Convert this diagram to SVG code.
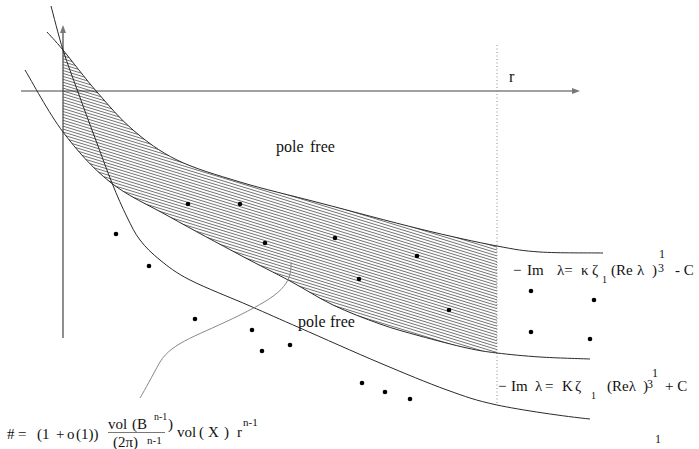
<svg xmlns="http://www.w3.org/2000/svg" width="699" height="449" viewBox="0 0 699 449">
<style>
.crv{fill:none;stroke:#2a2a2a;stroke-width:1}
.ax{fill:none;stroke:#444;stroke-width:1.2}
.t{font-family:"Liberation Serif","Times New Roman",serif;fill:#111}
.m{font-size:15px}
.s{font-size:10px}
.dot{fill:#000}
</style>
<defs>
<pattern id="hatch" patternUnits="userSpaceOnUse" width="20" height="2.8" patternTransform="rotate(17)">
<line x1="0" y1="1.4" x2="20" y2="1.4" stroke="#444" stroke-width="0.75"/>
</pattern>
</defs>
<rect width="699" height="449" fill="#fff"/>
<g id="region">
<path fill="url(#hatch)" stroke="none" d="M63,50 C71.3,60 85.3,78.7 97,92 C108.7,105.3 119.7,118.7 133,130 C146.3,141.3 159.2,151.3 177,160 C194.8,168.7 216.2,174.8 240,182 C263.8,189.2 290,195.2 320,203 C350,210.8 390.5,221.8 420,229 C449.5,236.2 477,242.2 497,246 L497,353 C484.8,351.5 479.8,350.8 467,348 C454.2,345.2 434.5,340 420,336 C405.5,332 394.5,329.2 380,324 C365.5,318.8 348,312.2 333,305 C318,297.8 305.5,289.3 290,281 C274.5,272.7 260,265.7 240,255 C220,244.3 191.7,229.2 170,217 C148.3,204.8 127.8,196.2 110,182 C92.2,167.8 77.2,150.7 63,132 Z"/>
</g>
<g id="axes">
<line class="ax" x1="21" y1="91" x2="576" y2="91"/>
<polygon points="572,88 580,91 572,94" fill="#777"/>
<line class="ax" x1="63" y1="338" x2="63" y2="29"/>
<polygon points="60,33 63,25 66,33" fill="#777"/>
<line x1="497" y1="45" x2="497" y2="405" stroke="#888" stroke-width="1" stroke-dasharray="1,2.5"/>
</g>
<g id="curves">
<path id="upper" class="crv" d="M47,32 C49.7,35 54.7,40 63,50 C71.3,60 85.3,78.7 97,92 C108.7,105.3 119.7,118.7 133,130 C146.3,141.3 159.2,151.3 177,160 C194.8,168.7 216.2,174.8 240,182 C263.8,189.2 290,195.2 320,203 C350,210.8 390.5,221.8 420,229 C449.5,236.2 477,242.2 497,246 C517,249.8 522.3,250.8 540,252 C557.7,253.2 592.5,252.8 603,253"/>
<path id="middle" class="crv" d="M25,70 C31.3,80.3 48.8,113.3 63,132 C77.2,150.7 92.2,167.8 110,182 C127.8,196.2 148.3,204.8 170,217 C191.7,229.2 220,244.3 240,255 C260,265.7 274.5,272.7 290,281 C305.5,289.3 318,297.8 333,305 C348,312.2 365.5,318.8 380,324 C394.5,329.2 405.5,332 420,336 C434.5,340 454.2,345.2 467,348 C479.8,350.8 484.8,351.5 497,353 C509.2,354.5 524.5,356 540,357 C555.5,358 581.7,358.7 590,359"/>
<path id="lower" class="crv" d="M51,6 C53,13.3 58.5,35.7 63,50 C67.5,64.3 72.7,77.3 78,92 C83.3,106.7 89.3,122.8 95,138 C100.7,153.2 106.7,169.8 112,183 C117.3,196.2 122.3,207.5 127,217 C131.7,226.5 134.5,232.8 140,240 C145.5,247.2 151.7,253.3 160,260 C168.3,266.7 175,272.3 190,280 C205,287.7 231.7,298 250,306 C268.3,314 278.3,318.5 300,328 C321.7,337.5 355.5,352.7 380,363 C404.5,373.3 427.5,383 447,390 C466.5,397 474.8,400.2 497,405 C519.2,409.8 566.2,416.7 590,419"/>
</g>
<g id="connectors">
<path d="M291,262 C292,285 280,295 240,315 C200,335 172,342 160,362 C151,378 146,388 140,398" fill="none" stroke="#888" stroke-width="1"/>
</g>
<g id="poles">
<circle class="dot" cx="188" cy="204" r="2.3"/>
<circle class="dot" cx="240" cy="204" r="2.3"/>
<circle class="dot" cx="116" cy="234" r="2.3"/>
<circle class="dot" cx="265" cy="243" r="2.3"/>
<circle class="dot" cx="335" cy="238" r="2.3"/>
<circle class="dot" cx="417" cy="256" r="2.3"/>
<circle class="dot" cx="149" cy="266" r="2.3"/>
<circle class="dot" cx="359" cy="279" r="2.3"/>
<circle class="dot" cx="449" cy="310" r="2.3"/>
<circle class="dot" cx="195" cy="319" r="2.3"/>
<circle class="dot" cx="252" cy="330" r="2.3"/>
<circle class="dot" cx="290" cy="345" r="2.3"/>
<circle class="dot" cx="262" cy="351" r="2.3"/>
<circle class="dot" cx="362" cy="383" r="2.3"/>
<circle class="dot" cx="385" cy="392" r="2.3"/>
<circle class="dot" cx="410" cy="399" r="2.3"/>
<circle class="dot" cx="531" cy="291" r="2.3"/>
<circle class="dot" cx="594" cy="300" r="2.3"/>
<circle class="dot" cx="531" cy="332" r="2.3"/>
<circle class="dot" cx="590" cy="339" r="2.3"/>
</g>
<g id="labels">
<text class="t" x="509" y="82" font-size="16">r</text>
<text class="t" x="276" y="152" font-size="16">pole</text>
<text class="t" x="310" y="152" font-size="16">free</text>
<text class="t" x="298" y="327" font-size="16">pole</text>
<text class="t" x="330" y="327" font-size="16">free</text>
</g>
<g id="formula-upper" class="t m">
<text x="513" y="275">−</text>
<text x="527" y="275">Im</text>
<text x="557" y="275">λ=</text>
<text x="581" y="275">κ</text>
<text x="592" y="275">ζ</text>
<text x="602" y="283" class="s">1</text>
<text x="611" y="275">(Re</text>
<text x="637" y="275">λ</text>
<text x="652" y="275">)</text>
<text x="658" y="272" font-size="12">3</text>
<text x="659" y="258" font-size="12">1</text>
<text x="675" y="275">- C</text>
</g>
<g id="formula-lower" class="t m">
<text x="498" y="391">−</text>
<text x="511" y="391">Im</text>
<text x="535" y="391">λ</text>
<text x="545" y="391">=</text>
<text x="562" y="391">K</text>
<text x="575" y="391">ζ</text>
<text x="591" y="399" class="s">1</text>
<text x="607" y="391">(Reλ</text>
<text x="643" y="391">)</text>
<text x="647" y="388" font-size="12">3</text>
<text x="652" y="377" font-size="12">1</text>
<text x="665" y="391">+ C</text>
</g>
<g id="formula-count" class="t m">
<text x="7" y="439">#</text>
<text x="18" y="439">=</text>
<text x="37" y="439">(1</text>
<text x="56" y="439">+</text>
<text x="67" y="439">o</text>
<text x="76" y="439">(1))</text>
<text x="108" y="429">vol</text>
<text x="132" y="429">(B</text>
<text x="154" y="420" font-size="10">n-1</text>
<text x="168" y="429">)</text>
<line x1="108" y1="432.5" x2="165" y2="432.5" stroke="#555" stroke-width="0.8"/>
<text x="113" y="447">(2π)</text>
<text x="147" y="444" font-size="11">n-1</text>
<text x="177" y="437">vol</text>
<text x="199" y="437">(</text>
<text x="208" y="437">X</text>
<text x="224" y="437">)</text>
<text x="237" y="437">r</text>
<text x="243" y="426" font-size="11">n-1</text>
<text x="655" y="443" font-size="12">1</text>
</g>
</svg>
